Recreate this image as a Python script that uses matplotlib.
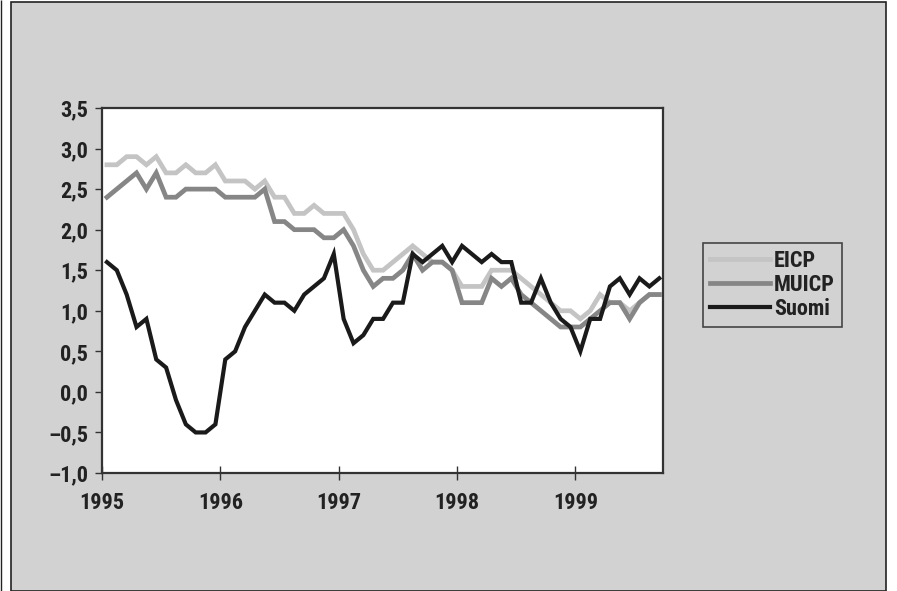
import matplotlib
matplotlib.use("Agg")
import matplotlib.pyplot as plt
import matplotlib.font_manager as fm
from matplotlib.patches import Rectangle
import numpy as np

# Monthly data, Jan 1995 .. Sep 1999
start_year = 1995
eicp = [2.8, 2.8, 2.9, 2.9, 2.8, 2.9, 2.7, 2.7, 2.8, 2.7, 2.7, 2.8,
        2.6, 2.6, 2.6, 2.5, 2.6, 2.4, 2.4, 2.2, 2.2, 2.3, 2.2, 2.2,
        2.2, 2.0, 1.7, 1.5, 1.5, 1.6, 1.7, 1.8, 1.7, 1.6, 1.6, 1.5,
        1.3, 1.3, 1.3, 1.5, 1.5, 1.5, 1.4, 1.3, 1.2, 1.1, 1.0, 1.0,
        0.9, 1.0, 1.2, 1.1, 1.1, 1.0, 1.1, 1.2, 1.2]
muicp = [2.4, 2.5, 2.6, 2.7, 2.5, 2.7, 2.4, 2.4, 2.5, 2.5, 2.5, 2.5,
         2.4, 2.4, 2.4, 2.4, 2.5, 2.1, 2.1, 2.0, 2.0, 2.0, 1.9, 1.9,
         2.0, 1.8, 1.5, 1.3, 1.4, 1.4, 1.5, 1.7, 1.5, 1.6, 1.6, 1.5,
         1.1, 1.1, 1.1, 1.4, 1.3, 1.4, 1.2, 1.1, 1.0, 0.9, 0.8, 0.8,
         0.8, 0.9, 1.0, 1.1, 1.1, 0.9, 1.1, 1.2, 1.2]
suomi = [1.6, 1.5, 1.2, 0.8, 0.9, 0.4, 0.3, -0.1, -0.4, -0.5, -0.5, -0.4,
         0.4, 0.5, 0.8, 1.0, 1.2, 1.1, 1.1, 1.0, 1.2, 1.3, 1.4, 1.7,
         0.9, 0.6, 0.7, 0.9, 0.9, 1.1, 1.1, 1.7, 1.6, 1.7, 1.8, 1.6,
         1.8, 1.7, 1.6, 1.7, 1.6, 1.6, 1.1, 1.1, 1.4, 1.1, 0.9, 0.8,
         0.5, 0.9, 0.9, 1.3, 1.4, 1.2, 1.4, 1.3, 1.4]
series_names = ["EICP", "MUICP", "Suomi"]
year_ticks = [1995, 1996, 1997, 1998, 1999]
y_ticks = [-1.0, -0.5, 0.0, 0.5, 1.0, 1.5, 2.0, 2.5, 3.0, 3.5]

# find a condensed bold font file if present
fpath = None
cands = []
for f in fm.fontManager.ttflist:
    fn = f.fname.lower()
    if ("condensed" in fn or "narrow" in fn) and ("bold" in fn) and "oblique" not in fn and "italic" not in fn:
        cands.append(f.fname)
pref = ["robotocondensed-bold", "liberationsansnarrow-bold", "opensanscondensed-bold", "dejavusanscondensed-bold"]
for p in pref:
    for c in cands:
        if p in c.lower().replace(" ", "").replace("_", ""):
            fpath = c
            break
    if fpath:
        break
if fpath is None and cands:
    fpath = sorted(cands)[0]

def fp(size):
    if fpath:
        return fm.FontProperties(fname=fpath, size=size)
    return fm.FontProperties(family="DejaVu Sans", weight="bold", size=size)

t = start_year + (np.arange(len(suomi)) + 0.5) / 12.0

fig = plt.figure(figsize=(8.97, 5.91), dpi=100)
fig.patch.set_facecolor("white")
W, H = 897.0, 591.0
fig.patches.append(Rectangle((11 / W, 0.0), (886 - 11) / W, 589 / H,
                             transform=fig.transFigure, facecolor="#d2d2d2",
                             edgecolor="#222222", linewidth=1.2, zorder=-2))
fig.patches.append(Rectangle((0.5 / W, 0.0), 0.0, 1.0, transform=fig.transFigure,
                             facecolor="none", edgecolor="#222222", linewidth=1.0, zorder=-2))

ax = fig.add_axes([102 / W, 1 - 473 / H, (663 - 102) / W, (473 - 108) / H])
ax.set_zorder(1)
ax.set_facecolor("white")

ax.plot(t, eicp, color="#c4c4c4", lw=3.4, label=series_names[0], solid_joinstyle="miter")
ax.plot(t, muicp, color="#868686", lw=3.4, label=series_names[1], solid_joinstyle="miter")
ax.plot(t, suomi, color="#1a1a1a", lw=3.0, label=series_names[2], solid_joinstyle="miter")

ax.set_xlim(1995, 1999.74)
ax.set_ylim(-1.0, 3.5)
ax.set_xticks(year_ticks)
ax.set_xticklabels([str(y) for y in year_ticks])
ax.set_yticks(y_ticks)
ax.set_yticklabels([("\u2013" if v < 0 else "") + f"{abs(v):.1f}".replace(".", ",") for v in y_ticks])

for sp in ax.spines.values():
    sp.set_color("#333333")
    sp.set_linewidth(1.6)

ax.tick_params(axis="x", direction="inout", length=10, width=1, color="#333333", pad=9)
ax.tick_params(axis="y", direction="out", length=5, width=1, color="#333333", pad=5)
for lab in ax.get_xticklabels() + ax.get_yticklabels():
    lab.set_fontproperties(fp(16))
    lab.set_color("#222222")

leg = fig.legend(loc="upper left", bbox_to_anchor=(703 / W, 1 - 243 / H),
                 bbox_transform=fig.transFigure, frameon=True, fancybox=False,
                 prop=fp(16),
                 handlelength=2.7, handletextpad=0.2, borderpad=0.3, labelspacing=0.1,
                 borderaxespad=0)
leg.set_zorder(2)
leg.get_frame().set_edgecolor("#222222")
leg.get_frame().set_facecolor("#d2d2d2")
leg.get_frame().set_linewidth(1.2)
for txt in leg.get_texts():
    txt.set_color("#222222")

fig.savefig("out.png", dpi=100)
